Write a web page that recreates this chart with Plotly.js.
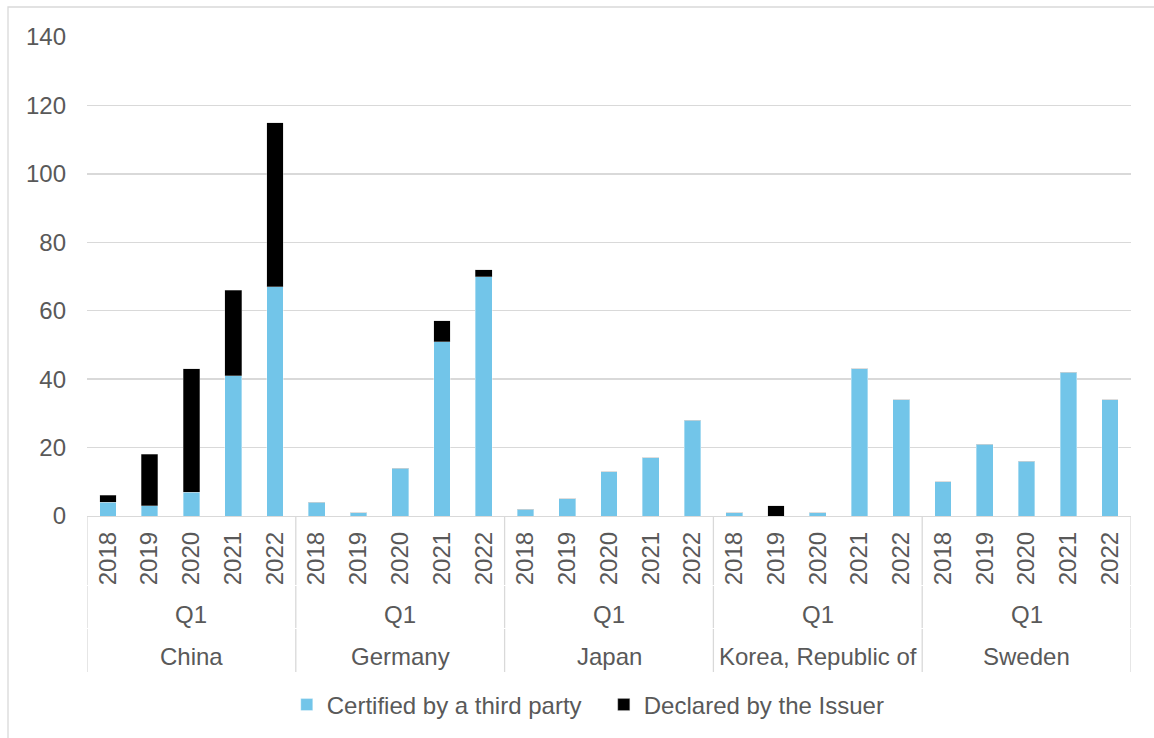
<!DOCTYPE html>
<html>
<head>
<meta charset="utf-8">
<script src="https://cdn.plot.ly/plotly-3.0.1.min.js"></script>
<style>
  html, body { margin: 0; padding: 0; background: #ffffff; }
  #chart { width: 1154px; height: 738px; }
</style>
</head>
<body>
<div id="chart"></div>
<script>
// Green bond issuance, Q1 of each year, by country
const countries = ['China', 'Germany', 'Japan', 'Korea, Republic of', 'Sweden'];
const years = ['2018', '2019', '2020', '2021', '2022'];
const quarter = 'Q1';

// one value per country-year, countries in the order above, years ascending
const certified = [
  4, 3, 7, 41, 67,     // China
  4, 1, 14, 51, 70,    // Germany
  2, 5, 13, 17, 28,    // Japan
  1, 0, 1, 43, 34,     // Korea, Republic of
  10, 21, 16, 42, 34   // Sweden
];
const declared = [
  2, 15, 36, 25, 48,   // China
  0, 0, 0, 6, 2,       // Germany
  0, 0, 0, 0, 0,       // Japan
  0, 3, 0, 0, 0,       // Korea, Republic of
  0, 0, 0, 0, 0        // Sweden
];

const TEXT = '#595959';
const GRID = '#D9D9D9';
const FONT = '"Liberation Sans", Arial, sans-serif';
const FS = 24;

const nYears = years.length;
const xs = [];
const yearText = [];
countries.forEach((c, ci) => {
  years.forEach((y, yi) => {
    xs.push(ci * nYears + yi);
    yearText.push(y);
  });
});

const traces = [
  {
    type: 'bar', name: 'Certified by a third party',
    x: xs, y: certified,
    marker: { color: '#72C5E9', line: { color: 'rgba(255,255,255,0.6)', width: 0.6 } },
    hoverinfo: 'y+name'
  },
  {
    type: 'bar', name: 'Declared by the Issuer',
    x: xs, y: declared,
    marker: { color: '#000000', line: { color: 'rgba(200,200,200,0.6)', width: 0.6 } },
    hoverinfo: 'y+name'
  }
];

// group dividers and the two outer label rows of the category axis
const plotTop = 37, plotBottom = 516, plotH = plotBottom - plotTop;
const pxToPaperY = py => (plotBottom - py) / plotH;

const shapes = [];
const segs = [[516, 585], [586, 628], [629, 672]];
for (let g = 0; g <= countries.length; g++) {
  const xv = g * nYears - 0.5;
  segs.forEach(s => {
    shapes.push({
      type: 'line', xref: 'x', yref: 'paper',
      x0: xv, x1: xv, y0: pxToPaperY(s[0]), y1: pxToPaperY(s[1]),
      line: { color: GRID, width: 1.3 }
    });
  });
}
// outer chart frame
shapes.push({
  type: 'rect', xref: 'paper', yref: 'paper',
  x0: (8 - 87) / 1044, x1: (1170 - 87) / 1044,
  y0: pxToPaperY(760), y1: pxToPaperY(7),
  line: { color: GRID, width: 1.3 }, fillcolor: 'rgba(0,0,0,0)', layer: 'below'
});

const annotations = [];
countries.forEach((c, ci) => {
  const xc = ci * nYears + (nYears - 1) / 2;
  annotations.push({
    text: quarter, xref: 'x', yref: 'paper', x: xc, y: pxToPaperY(614),
    showarrow: false, xanchor: 'center', yanchor: 'middle',
    font: { family: FONT, size: FS, color: TEXT }
  });
  annotations.push({
    text: c, xref: 'x', yref: 'paper', x: xc, y: pxToPaperY(657),
    showarrow: false, xanchor: 'center', yanchor: 'middle',
    font: { family: FONT, size: FS, color: TEXT }
  });
});

const layout = {
  width: 1154, height: 738, autosize: false,
  margin: { l: 87, r: 23, t: plotTop, b: 738 - plotBottom, pad: 0, autoexpand: false },
  paper_bgcolor: '#ffffff', plot_bgcolor: '#ffffff',
  font: { family: FONT, size: FS, color: TEXT },
  barmode: 'stack', bargap: 0.6,
  showlegend: true,
  legend: {
    orientation: 'h', x: 0.495, xanchor: 'center',
    y: pxToPaperY(705), yanchor: 'middle',
    entrywidth: 272, entrywidthmode: 'pixels',
    font: { family: FONT, size: FS, color: TEXT },
    bgcolor: 'rgba(0,0,0,0)', traceorder: 'normal'
  },
  xaxis: {
    type: 'linear', range: [-0.5, xs.length - 0.5],
    tickmode: 'array', tickvals: xs, ticktext: yearText,
    tickangle: -90, ticks: '', ticklabelstandoff: 5,
    showgrid: false, zeroline: false,
    showline: true, linecolor: GRID, linewidth: 1.3,
    tickfont: { family: FONT, size: FS, color: TEXT },
    fixedrange: true, automargin: false
  },
  yaxis: {
    range: [0, 140], dtick: 20, tick0: 0,
    showgrid: true, gridcolor: GRID, gridwidth: 1.3,
    zeroline: false, showline: false, ticks: '',
    ticklabelstandoff: 20,
    tickfont: { family: FONT, size: FS, color: TEXT },
    fixedrange: true, automargin: false
  },
  shapes: shapes,
  annotations: annotations
};

Plotly.newPlot('chart', traces, layout, { displayModeBar: false, staticPlot: true });
</script>
</body>
</html>
